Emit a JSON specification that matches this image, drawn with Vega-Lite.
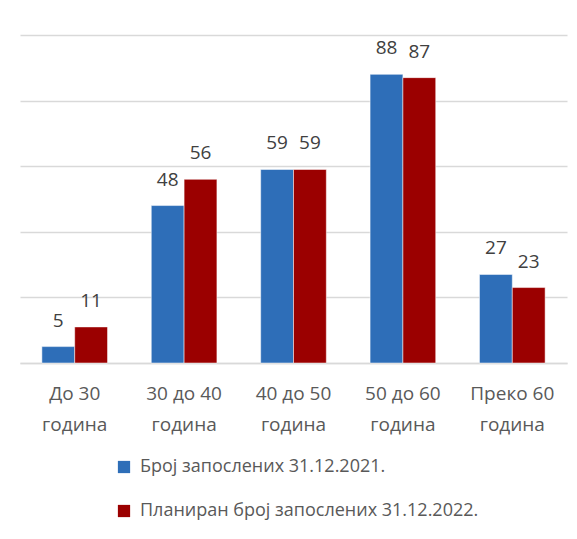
{
  "$schema": "https://vega.github.io/schema/vega-lite/v6.json",
  "width": 547,
  "height": 328,
  "padding": {"left": 20, "top": 35, "right": 10, "bottom": 10},
  "background": "white",
  "data": {
    "values": [
      {"group": "До 30 година", "series": "Број запослених 31.12.2021.", "value": 5},
      {"group": "До 30 година", "series": "Планиран број запослених 31.12.2022.", "value": 11},
      {"group": "30 до 40 година", "series": "Број запослених 31.12.2021.", "value": 48},
      {"group": "30 до 40 година", "series": "Планиран број запослених 31.12.2022.", "value": 56},
      {"group": "40 до 50 година", "series": "Број запослених 31.12.2021.", "value": 59},
      {"group": "40 до 50 година", "series": "Планиран број запослених 31.12.2022.", "value": 59},
      {"group": "50 до 60 година", "series": "Број запослених 31.12.2021.", "value": 88},
      {"group": "50 до 60 година", "series": "Планиран број запослених 31.12.2022.", "value": 87},
      {"group": "Преко 60 година", "series": "Број запослених 31.12.2021.", "value": 27},
      {"group": "Преко 60 година", "series": "Планиран број запослених 31.12.2022.", "value": 23}
    ]
  },
  "encoding": {
    "x": {
      "field": "group",
      "type": "nominal",
      "sort": null,
      "scale": {"paddingInner": 0.4, "paddingOuter": 0.2},
      "axis": {
        "title": null,
        "labelAngle": 0,
        "labelExpr": "[replace(datum.label, ' година', ''), 'година']",
        "labelFont": "Open Sans",
        "labelFontSize": 19,
        "labelColor": "#595959",
        "labelLineHeight": 31,
        "labelPadding": 21,
        "ticks": false,
        "domainColor": "#d9d9d9",
        "domainWidth": 1.5
      }
    },
    "xOffset": {"field": "series", "type": "nominal", "sort": null},
    "y": {
      "field": "value",
      "type": "quantitative",
      "scale": {"domain": [0, 100]},
      "axis": {
        "title": null,
        "labels": false,
        "ticks": false,
        "domain": false,
        "values": [0, 20, 40, 60, 80, 100],
        "gridColor": "#d9d9d9",
        "gridWidth": 1.5
      }
    },
    "color": {
      "field": "series",
      "type": "nominal",
      "sort": null,
      "scale": {"range": ["#2E6EB8", "#9B0000"]},
      "legend": {
        "title": null,
        "orient": "none",
        "direction": "vertical",
        "legendX": 95,
        "legendY": 423,
        "symbolType": "square",
        "symbolSize": 150,
        "symbolStrokeWidth": 0,
        "symbolOpacity": 1,
        "labelFont": "Open Sans",
        "labelFontSize": 18,
        "labelColor": "#595959",
        "labelOffset": 7,
        "labelLimit": 500,
        "rowPadding": 26
      }
    }
  },
  "layer": [
    {"mark": {"type": "bar", "stroke": "white", "strokeWidth": 0.5}},
    {
      "mark": {
        "type": "text",
        "baseline": "bottom",
        "dy": -16,
        "font": "Open Sans",
        "fontSize": 19,
        "color": "#404040"
      },
      "encoding": {"text": {"field": "value", "type": "quantitative"}, "color": {"value": "#404040"}}
    }
  ],
  "config": {"view": {"stroke": null}}
}
